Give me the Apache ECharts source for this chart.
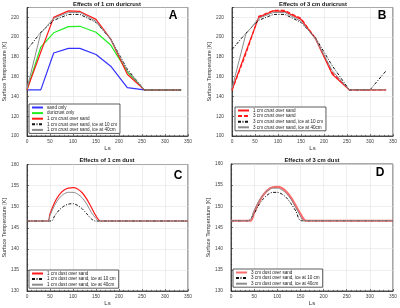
<!DOCTYPE html>
<html><head><meta charset="utf-8">
<script src="https://cdn.jsdelivr.net/npm/echarts@6/dist/echarts.min.js"></script>
<style>html,body{margin:0;padding:0;background:#fff}#c{width:400px;height:308px}</style>
</head><body><div id="c"></div><script>
// ---- Panel A / B (duricrust) ----
const lsTop = [0,30,58,90,115,150,182,218,255,300,335];
const sandOnly      = [146.7,146.7,184,188.6,188.6,182.5,170.6,149,146.7,146.7,146.7];
const duricrustOnly = [146.7,190,204.4,210.6,211,205,192,165,146.7,146.7,146.7];
const crust1        = [146.7,185,220,226.6,226,218,198,162.5,146.7,146.7,146.7];
const crust1Ice10   = [187,205,217,223,223,215,198,167.6,146.7,146.7,146.7];
const crust1Ice40   = [148,204,219,225,225,216,198,166,146.7,146.7,146.7];
const crust3        = [146,183,221,227,227,219,198.5,164,146.7,146.7,146.7];
const crust3Ice10   = [187.5,204,217,223,223,215,199,171,146.7,146.7,166];
const crust3Ice40   = [148,203,219,225,225,216,198,166,146.7,146.7,146.7];
// ---- Panel C (1 cm dust) ----
const dust1Ls      = [0,45,50,60,70,80,90,100,110,120,130,140,150,160,350];
const dust1        = [146.6,146.6,148.3,151.0,152.8,153.9,154.4,154.5,154.2,153.3,151.8,149.8,147.8,146.6,146.6];
const dust1Ice10Ls = [0,53,60,70,80,90,100,110,120,130,140,148,350];
const dust1Ice10   = [146.6,146.6,147.8,149.2,150.1,150.6,150.7,150.3,149.5,148.3,147.1,146.6,146.6];
const dust1Ice40Ls = [0,45,50,60,70,80,90,100,110,120,130,140,150,155,350];
const dust1Ice40   = [146.6,146.6,147.9,150.3,152.0,153.0,153.4,153.4,153.0,152.1,150.6,148.6,147.2,146.6,146.6];
// ---- Panel D (3 cm dust) ----
const dust3Ls      = [0,42,50,60,70,80,90,100,110,120,130,140,150,162,350];
const dust3        = [146.6,146.6,148.6,150.9,152.7,153.9,154.5,154.6,154.3,153.4,152.0,150.1,148.2,146.6,146.6];
const dust3Ice10Ls = [0,36,50,60,70,80,90,100,110,120,130,140,152,350];
const dust3Ice10   = [146.6,146.6,148.3,150.3,151.8,152.8,153.3,153.3,152.9,152.0,150.6,148.9,146.6,146.6];
const dust3Ice40Ls = [0,39,50,60,70,80,90,100,110,120,130,140,150,157,350];
const dust3Ice40   = [146.6,146.6,149.0,151.2,152.8,153.8,154.3,154.3,153.9,153.0,151.6,149.7,147.7,146.6,146.6];

const titles = ['Effects of 1 cm duricrust','Effects of 3 cm duricrust','Effects of 1 cm dust','Effects of 3 cm dust'];
const panelLabels = ['A','B','C','D'];
const xTicks = {min:0, max:350, interval:50};
const yTop = {min:100, max:230, interval:20};
const yBot = {min:130, max:160, interval:5};

const FONT = 'Liberation Sans';
const grids = [
  {left:26, right:212, top:7.5, bottom:172},
  {left:232, right:6, top:7.5, bottom:172},
  {left:26, right:212, top:164.5, bottom:17},
  {left:231, right:6, top:164, bottom:17}
];
const centers = [107, 313, 107, 312];
const labelPos = [[173,10],[382,10],[178,170],[380,167]];

function zip(xs, ys){ return xs.map((x,i)=>[x, ys[i]]); }

const xAxes = grids.map((g,i)=>({
  type:'value', gridIndex:i, ...xTicks,
  name:'Ls', nameLocation:'middle', nameGap:9,
  nameTextStyle:{fontSize:6, color:'#333', fontFamily:FONT},
  axisLine:{show:true, lineStyle:{color:'#262626', width:0.8}},
  axisTick:{show:true, inside:true, length:2, lineStyle:{color:'#262626', width:0.6}},
  minorTick:{show:true, splitNumber:5, length:1.2, lineStyle:{color:'#262626', width:0.5}},
  axisLabel:{fontSize:4.8, color:'#444', margin:3, fontFamily:FONT},
  splitLine:{show:true, lineStyle:{color:'#e3e3e3', width:0.6}}
}));
const yAxes = grids.map((g,i)=>({
  type:'value', gridIndex:i, ...(i<2?yTop:yBot),
  name:'Surface Temperature [K]', nameLocation:'middle', nameGap:20,
  nameTextStyle:{fontSize:5.5, color:'#333', fontFamily:FONT},
  axisLine:{show:true, lineStyle:{color:'#262626', width:0.8}},
  axisTick:{show:true, inside:true, length:2, lineStyle:{color:'#262626', width:0.6}},
  minorTick:{show:true, splitNumber:4, length:1.2, lineStyle:{color:'#262626', width:0.5}},
  axisLabel:{fontSize:4.8, color:'#444', margin:8, fontFamily:FONT, showMaxLabel: i<2 ? false : true},
  splitLine:{show:true, lineStyle:{color:'#e3e3e3', width:0.6}}
}));

const DASHDOT = [3,1.5,1,1.5];
function ln(name, idx, data, color, width, type, extra){
  return Object.assign({
    name, type:'line', xAxisIndex:idx, yAxisIndex:idx, data,
    symbol:'none', showSymbol:false, animation:false,
    lineStyle:{color, width, type}, itemStyle:{color}
  }, extra||{});
}

const series = [
  ln('sand only',0,zip(lsTop,sandOnly),'#3333ff',1.2,'solid'),
  ln('duricrust only',0,zip(lsTop,duricrustOnly),'#22ee22',1.2,'solid'),
  ln('1 cm crust over sand',0,zip(lsTop,crust1),'#ff1a1a',1.2,'solid'),
  ln('1 cm crust over sand, ice at 10 cm',0,zip(lsTop,crust1Ice10),'#111111',1,DASHDOT),
  ln('1 cm crust over sand, ice at 40cm',0,zip(lsTop,crust1Ice40),'#8c8c8c',1,'solid'),

  ln('1 cm crust over sand',1,zip(lsTop,crust1),'#ff1a1a',1.2,'solid'),
  ln('3 cm crust over sand',1,zip(lsTop,crust3),'#ff1a1a',1.2,[4,2]),
  ln('3 cm crust over sand, ice at 10 cm',1,zip(lsTop,crust3Ice10),'#111111',1,DASHDOT),
  ln('3 cm crust over sand, ice at 40cm',1,zip(lsTop,crust3Ice40),'#8c8c8c',1,'solid'),

  ln('1 cm dust over sand',2,zip(dust1Ls,dust1),'#ff1a1a',1.2,'solid',{smooth:0.3}),
  ln('1 cm dust over sand, ice at 10 cm',2,zip(dust1Ice10Ls,dust1Ice10),'#111111',1,DASHDOT,{smooth:0.3}),
  ln('1 cm dust over sand, ice at 40cm',2,zip(dust1Ice40Ls,dust1Ice40),'#8c8c8c',1,'solid',{smooth:0.3}),

  ln('3 cm dust over sand',3,zip(dust3Ls,dust3),'#ff6a6a',2.2,'solid',{smooth:0.3}),
  ln('3 cm dust over sand, ice at 10 cm',3,zip(dust3Ice10Ls,dust3Ice10),'#111111',1,DASHDOT,{smooth:0.3}),
  ln('3 cm dust over sand, ice at 40cm',3,zip(dust3Ice40Ls,dust3Ice40),'#8c8c8c',1,'solid',{smooth:0.3})
];

function legend(names, left, top){
  return {
    data:names, left, top, orient:'vertical',
    backgroundColor:'#fff', borderColor:'#333', borderWidth:0.8,
    padding:[1,3,1,2], itemGap:0.6, itemWidth:11, itemHeight:4.6,
    selectedMode:false,
    itemStyle:{opacity:0},
    textStyle:{fontSize:4.6, lineHeight:4.8, color:'#222', fontFamily:FONT, padding:[0,0,0,-1]}
  };
}
const legends = [
  legend(['sand only','duricrust only','1 cm crust over sand','1 cm crust over sand, ice at 10 cm','1 cm crust over sand, ice at 40cm'],29,104),
  legend(['1 cm crust over sand','3 cm crust over sand','3 cm crust over sand, ice at 10 cm','3 cm crust over sand, ice at 40cm'],235,107),
  legend(['1 cm dust over sand','1 cm dust over sand, ice at 10 cm','1 cm dust over sand, ice at 40cm'],29,270),
  legend(['3 cm dust over sand','3 cm dust over sand, ice at 10 cm','3 cm dust over sand, ice at 40cm'],233,269)
];

const titleArr = titles.map((t,i)=>({
  text:t, left:centers[i], top: i<2 ? 1 : 157, textAlign:'center', padding:0,
  textStyle:{fontSize:5.8, fontWeight:'bold', color:'#111', fontFamily:FONT}
})).concat(panelLabels.map((t,i)=>({
  text:t, left:labelPos[i][0], top:labelPos[i][1], textAlign:'center', padding:0,
  textStyle:{fontSize:12, fontWeight:'bold', color:'#000', fontFamily:FONT}
})));

const chart = echarts.init(document.getElementById('c'), null, {renderer:'canvas'});
chart.setOption({
  animation:false,
  backgroundColor:'#fff',
  title:titleArr,
  grid:grids.map(g=>Object.assign({show:true, borderColor:'#262626', borderWidth:0.8, backgroundColor:'#fff'}, g)),
  xAxis:xAxes, yAxis:yAxes,
  legend:legends,
  series
});
</script></body></html>
